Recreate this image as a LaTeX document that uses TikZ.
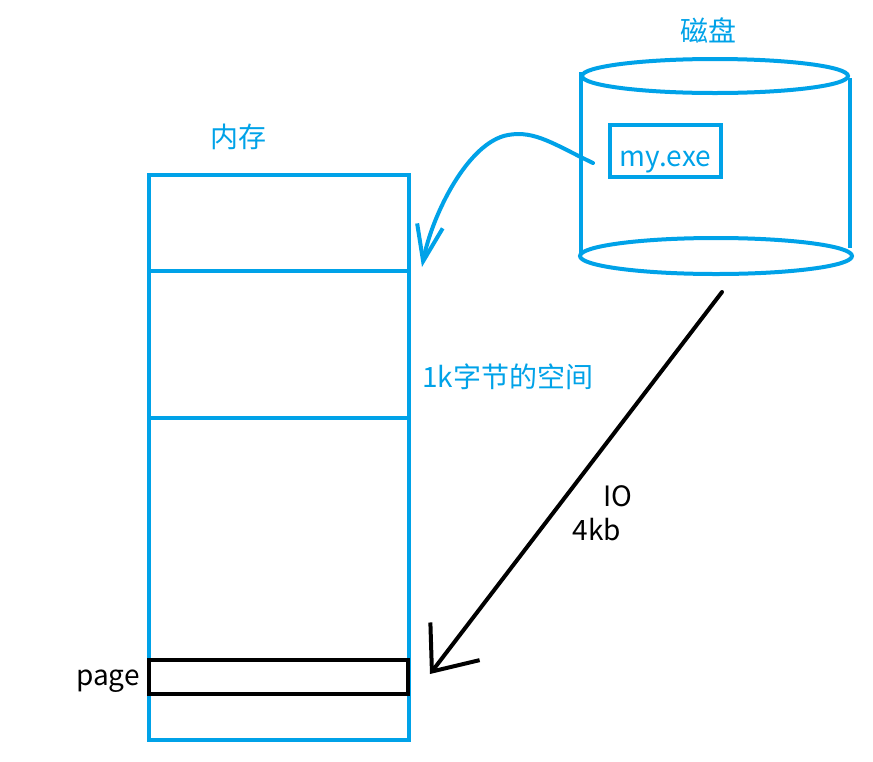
\documentclass[tikz,border=0pt]{standalone}
\usepackage{fontspec}
\setmainfont{Noto Sans CJK SC}
\usetikzlibrary{arrows.meta,positioning}
\definecolor{paintblue}{RGB}{0,162,232}

\begin{document}
\begin{tikzpicture}[x=1pt,y=-1pt,
  cell/.style={draw=paintblue,line width=4pt,minimum width=260pt,inner sep=0pt},
  lbl/.style={font=\fontsize{28}{32}\selectfont,inner sep=0pt},
  bluelbl/.style={lbl,text=paintblue}]
\useasboundingbox (0,0) rectangle (873,761);
% memory
\node[cell,minimum height=565pt] (mem) at (279,457.5) {};
\node[cell,minimum height=147pt] (blk) at (279,344.5) {};
\node[draw,line width=4pt,minimum width=259pt,minimum height=34pt,inner sep=0pt] (page) at (278.5,677) {};
\node[lbl,anchor=base east] (pagetxt) at ([xshift=-7pt,yshift=-8pt]page.west) {page};
\node[bluelbl] (memtxt) at (238,137) {内存};
\node[bluelbl,anchor=west] (blktxt) at (422,377) {1k字节的空间};
% disk
\draw[paintblue,line width=4pt] (715,76) ellipse [x radius=133,y radius=17];
\draw[paintblue,line width=4pt] (716,256) ellipse [x radius=136,y radius=18];
\draw[paintblue,line width=4pt] (581,72) -- (581,255) (850,78) -- (850,248);
\node[bluelbl] (disktxt) at (708,30) {磁盘};
\node[bluelbl,draw=paintblue,line width=4pt,minimum width=111pt,minimum height=52pt,
  text height=30pt,text depth=0pt] (exe) at (665.5,151) {my.exe};
% load and swap
\coordinate (src) at (593,163);
\coordinate (io) at (722,292);
\draw[paintblue,line width=4pt,line cap=round,-{Straight Barb[length=36pt,width=26pt]}]
  (src) .. controls (555,145) and (535,130) .. (508,135)
  .. controls (468,142) and (432,215) .. ([xshift=11pt,yshift=2pt]blk.north east);
\draw[line width=4pt,line cap=round,-{Straight Barb[length=38pt,width=62pt]}]
  (io) -- ([xshift=20pt,yshift=3pt]page.east);
\node[lbl] (iotxt) at (618,496) {IO};
\node[lbl] (kbtxt) at (597,530) {4kb};
\end{tikzpicture}
\end{document}
